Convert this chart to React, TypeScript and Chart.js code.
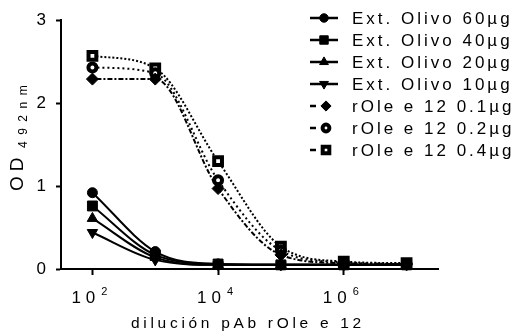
import React, { useEffect, useRef } from 'react';
import { Chart, registerables } from 'chart.js';
import { drawPoint } from 'chart.js/helpers';

Chart.register(...registerables);

// ---- data ----
const dilutions = [1e2, 1e3, 1e4, 1e5, 1e6, 1e7];
const ext60 = [0.92, 0.21, 0.06, 0.05, 0.05, 0.05];
const ext40 = [0.76, 0.17, 0.06, 0.05, 0.05, 0.05];
const ext20 = [0.61, 0.14, 0.05, 0.05, 0.05, 0.05];
const ext10 = [0.44, 0.11, 0.05, 0.05, 0.05, 0.05];
const rOle01 = [2.29, 2.29, 0.97, 0.17, 0.07, 0.06];
const rOle02 = [2.43, 2.36, 1.07, 0.22, 0.08, 0.06];
const rOle04 = [2.57, 2.42, 1.3, 0.27, 0.09, 0.07];

const seriesLabels = [
  'Ext. Olivo 60µg',
  'Ext. Olivo 40µg',
  'Ext. Olivo 20µg',
  'Ext. Olivo 10µg',
  'rOle e 12 0.1µg',
  'rOle e 12 0.2µg',
  'rOle e 12 0.4µg',
];
const xTicks = [1e2, 1e4, 1e6];
const xTickExponents = ['2', '4', '6'];
const xTitle = 'dilución pAb rOle e 12';
const yTitleMain = 'OD';
const yTitleSub = '492nm';

const FONT = '"Liberation Sans", Arial, Helvetica, sans-serif';

type Marker = {
  pointStyle: string;
  radius: number;
  rotation: number;
  bg: string;
  borderWidth: number;
  dash: number[];
  solid: boolean;
};

const markers: Marker[] = [
  { pointStyle: 'circle', radius: 5, rotation: 0, bg: '#000', borderWidth: 1, dash: [], solid: true },
  { pointStyle: 'rect', radius: 7, rotation: 0, bg: '#000', borderWidth: 1, dash: [], solid: true },
  { pointStyle: 'triangle', radius: 6, rotation: 0, bg: '#000', borderWidth: 1, dash: [], solid: true },
  { pointStyle: 'triangle', radius: 6, rotation: 180, bg: '#000', borderWidth: 1, dash: [], solid: true },
  { pointStyle: 'rectRot', radius: 6, rotation: 0, bg: '#000', borderWidth: 1, dash: [2, 2, 5, 2], solid: false },
  { pointStyle: 'circle', radius: 4, rotation: 0, bg: '#fff', borderWidth: 4, dash: [2, 3], solid: false },
  { pointStyle: 'rect', radius: 5.5, rotation: 0, bg: '#fff', borderWidth: 4, dash: [2, 2], solid: false },
];

const seriesValues = [ext60, ext40, ext20, ext10, rOle01, rOle02, rOle04];

const overlayPlugin = {
  id: 'overlay',
  afterDraw(chart: any) {
    const ctx: CanvasRenderingContext2D = chart.ctx;
    const xs = chart.scales.x;
    ctx.save();
    ctx.fillStyle = '#000';
    ctx.strokeStyle = '#000';
    ctx.textAlign = 'left';
    ctx.textBaseline = 'alphabetic';

    // x tick labels 10^n
    xTicks.forEach((v, i) => {
      const px = xs.getPixelForValue(v);
      ctx.font = `17px ${FONT}`;
      (ctx as any).letterSpacing = '5px';
      const x0 = px - 21;
      ctx.fillText('10', x0, 303);
      const w = ctx.measureText('10').width;
      ctx.font = `11px ${FONT}`;
      (ctx as any).letterSpacing = '0px';
      ctx.fillText(xTickExponents[i], x0 + w + 1, 295);
    });

    // x title
    ctx.font = `15.5px ${FONT}`;
    (ctx as any).letterSpacing = '3.7px';
    ctx.fillText(xTitle, 131, 328);

    // y title
    ctx.save();
    ctx.translate(23, 191);
    ctx.rotate(-Math.PI / 2);
    ctx.font = `19px ${FONT}`;
    (ctx as any).letterSpacing = '5px';
    ctx.fillText(yTitleMain, 0, 0);
    ctx.font = `12px ${FONT}`;
    (ctx as any).letterSpacing = '6.5px';
    ctx.fillText(yTitleSub, 43, 4);
    ctx.restore();

    // legend
    seriesLabels.forEach((label, i) => {
      const m = markers[i];
      const y = 18 + 22 * i;
      ctx.setLineDash([]);
      ctx.lineWidth = 2.5;
      ctx.beginPath();
      if (m.solid) {
        ctx.moveTo(310, y);
        ctx.lineTo(338, y);
      } else {
        ctx.moveTo(310, y);
        ctx.lineTo(316, y);
      }
      ctx.stroke();
      const mx = m.solid ? 324 : 326;
      ctx.fillStyle = m.bg;
      ctx.strokeStyle = '#000';
      ctx.lineWidth = m.borderWidth;
      drawPoint(ctx, {
        pointStyle: m.pointStyle as any,
        radius: m.radius * 0.85,
        rotation: m.rotation,
        borderWidth: m.borderWidth,
      } as any, mx, y);
      ctx.fillStyle = '#000';
      ctx.font = `17px ${FONT}`;
      (ctx as any).letterSpacing = '3px';
      ctx.textBaseline = 'middle';
      ctx.fillText(label, 352, y + 1);
      ctx.textBaseline = 'alphabetic';
    });
    (ctx as any).letterSpacing = '0px';
    ctx.restore();
  },
};

export default function App() {
  const ref = useRef<HTMLCanvasElement>(null);

  useEffect(() => {
    if (!ref.current) return;
    const datasets = seriesValues.map((vals, i) => {
      const m = markers[i];
      return {
        label: seriesLabels[i],
        data: dilutions.map((d, j) => ({ x: d, y: vals[j] })),
        borderColor: '#000',
        backgroundColor: '#000',
        borderWidth: 2,
        borderDash: m.dash,
        cubicInterpolationMode: 'monotone' as const,
        pointStyle: m.pointStyle as any,
        pointRadius: m.radius,
        pointRotation: m.rotation,
        pointBackgroundColor: m.bg,
        pointBorderColor: '#000',
        pointBorderWidth: m.borderWidth,
        clip: false as any,
      };
    });

    const chart = new Chart(ref.current, {
      type: 'line',
      data: { datasets },
      options: {
        animation: false,
        responsive: false,
        layout: { padding: { top: 17, right: 81, bottom: 0, left: 0 } },
        plugins: { legend: { display: false }, tooltip: { enabled: false } },
        scales: {
          x: {
            type: 'logarithmic',
            min: Math.pow(10, 1.5),
            max: Math.pow(10, 7.5),
            afterBuildTicks: (s: any) => {
              s.ticks = xTicks.map((v) => ({ value: v }));
            },
            afterFit: (s: any) => {
              s.height = 63;
            },
            ticks: { display: false, autoSkip: false },
            grid: {
              display: true,
              drawOnChartArea: false,
              drawTicks: true,
              tickLength: 6,
              tickWidth: 2,
              tickColor: '#000',
              color: '#000',
            },
            border: { display: true, color: '#000', width: 2 },
          },
          y: {
            type: 'linear',
            min: 0,
            max: 3,
            afterFit: (s: any) => {
              s.width = 61;
            },
            ticks: {
              stepSize: 1,
              color: '#000',
              padding: 10,
              font: { size: 17, family: FONT },
            },
            grid: {
              display: true,
              drawOnChartArea: false,
              drawTicks: true,
              tickLength: 5,
              tickWidth: 2,
              tickColor: '#000',
              color: '#000',
            },
            border: { display: true, color: '#000', width: 2 },
          },
        },
      },
      plugins: [overlayPlugin],
    });
    return () => chart.destroy();
  }, []);

  return (
    <div style={{ position: 'fixed', left: 0, top: 0, width: 519, height: 332, background: '#fff' }}>
      <canvas ref={ref} width={519} height={332} style={{ display: 'block' }} />
    </div>
  );
}
